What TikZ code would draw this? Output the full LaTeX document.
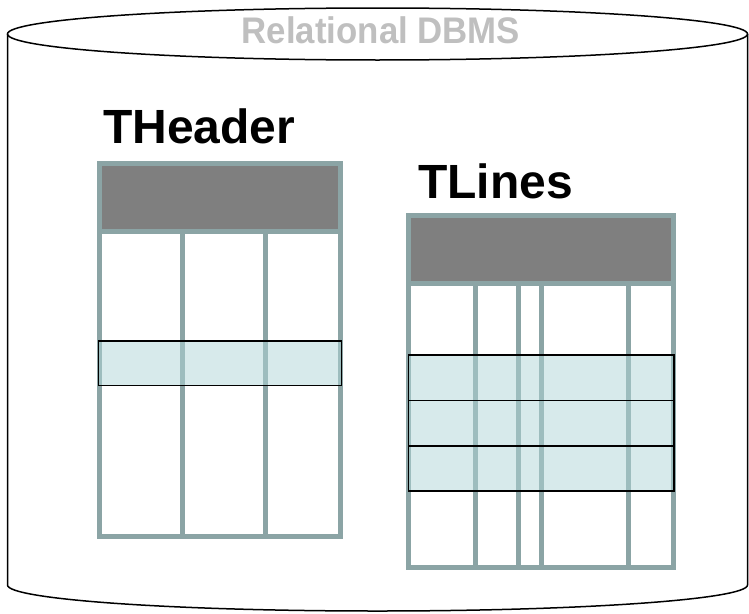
\documentclass[tikz,border=0pt]{standalone}
\usepackage{fontspec}
\setmainfont{Liberation Sans}
\definecolor{gridgray}{RGB}{139,164,165}
\definecolor{headgray}{RGB}{127,127,127}
\definecolor{rowfill}{RGB}{176,214,216}
\definecolor{titlegray}{RGB}{191,191,191}
\begin{document}
\begin{tikzpicture}[x=1pt,y=-1pt,
  gridline/.style={draw=gridgray,line width=5pt},
  headcell/.style={fill=headgray},
  rowshade/.style={fill=rowfill,fill opacity=0.5},
  rowedge/.style={draw=black,line width=1.8pt},
  cyl/.style={draw=black,line width=1.5pt},
  tname/.style={anchor=base west,inner sep=0pt,font=\fontsize{48}{48}\selectfont\bfseries}]
\useasboundingbox[fill=white] (0,0) rectangle (749,613);

% database cylinder
\draw[cyl] (7.5,34) -- (7.5,585)
  arc[start angle=180,end angle=0,x radius=370,y radius=26] -- (747.5,34);
\draw[cyl] (377.5,34) ellipse[x radius=370,y radius=26];
\node[anchor=base,inner sep=0pt,text=titlegray,xscale=0.94,
  font=\fontsize{37}{37}\selectfont\bfseries]
  (dbms) at (381,43) {Relational DBMS};

% table THeader
\node[tname] (theader) at (103,143) {THeader};
\fill[headcell] (99,163) rectangle (340.5,231.5);
\draw[gridline] (99,163) rectangle (340.5,536);
\draw[gridline] (99,231.5) -- (340.5,231.5);
\foreach \x in {182,265} \draw[gridline] (\x,231.5) -- (\x,536);
\fill[rowshade] (98.5,341) rectangle (341.5,385.5);
\draw[rowedge] (98.5,341) rectangle (341.5,385.5);

% table TLines
\node[tname] (tlines) at (418,198) {TLines};
\fill[headcell] (408,215) rectangle (673.5,283.5);
\draw[gridline] (408,215) rectangle (673.5,567);
\draw[gridline] (408,283.5) -- (673.5,283.5);
\foreach \x in {475,518,541.5,628.5} \draw[gridline] (\x,283.5) -- (\x,567);
\fill[rowshade] (408.5,355) rectangle (674,491);
\foreach \y/\z in {355/400.5,400.5/446,446/491}
  \draw[rowedge] (408.5,\y) rectangle (674,\z);
\end{tikzpicture}
\end{document}
